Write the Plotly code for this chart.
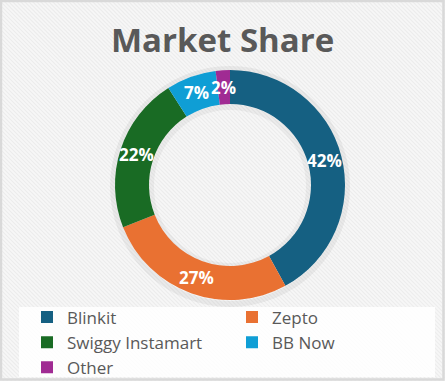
import math
import plotly.graph_objects as go

# ---- data ----
companies = ["Blinkit", "Zepto", "Swiggy Instamart", "BB Now", "Other"]
shares = [42, 27, 22, 7, 2]
colors = ["#156082", "#E97132", "#196B24", "#0F9ED5", "#A02B93"]
title_text = "Market Share"

W, H = 445, 381
CX, CY = 230, 185          # donut centre (px, from top-left)
R_OUT, R_IN = 115, 81
FONT = "Open Sans"

fig = go.Figure()
fig.add_trace(go.Pie(
    labels=companies, values=shares,
    marker=dict(colors=colors, line=dict(width=0)),
    hole=R_IN / R_OUT, sort=False, direction="clockwise", rotation=0,
    textinfo="none", hoverinfo="label+percent",
    domain=dict(x=[(CX - R_OUT) / W, (CX + R_OUT) / W],
                y=[(H - CY - R_OUT) / H, (H - CY + R_OUT) / H]),
    showlegend=True,
))

# percentage labels placed at mid-ring, derived from the data
total = sum(shares)
r_mid = (R_OUT + R_IN) / 2
annotations = []
cum = 0
for v in shares:
    ang = 2 * math.pi * (cum + v / 2) / total
    cum += v
    px = CX + r_mid * math.sin(ang)
    py = CY - r_mid * math.cos(ang)
    annotations.append(dict(
        x=px, y=py, xref="x", yref="y", text=f"{round(100 * v / total)}%",
        showarrow=False, font=dict(family=FONT, size=17, color="white", weight="bold"),
        xanchor="center", yanchor="middle"))

annotations.append(dict(
    x=222, y=39, xref="x", yref="y", text=title_text, showarrow=False,
    font=dict(family=FONT, size=33, color="#595959", weight="bold"),
    xanchor="center", yanchor="middle"))

# background stripes
path = []
for k in range(-H, W + 4, 4):
    path.append(f"M{k},0 L{k + H},{H}")
shapes = [
    dict(type="rect", xref="x", yref="y", x0=0, y0=0, x1=W, y1=H,
         fillcolor="#f7f7f7", line=dict(width=0), layer="below"),
    dict(type="path", xref="x", yref="y", path=" ".join(path),
         line=dict(color="#ececec", width=1.2), layer="below"),
    # soft shadow around donut (outer) and inside the hole
    dict(type="circle", xref="x", yref="y", x0=CX - R_OUT - 2, y0=CY - R_OUT - 1,
         x1=CX + R_OUT + 2, y1=CY + R_OUT + 4, fillcolor="rgba(0,0,0,0)",
         line=dict(width=6, color="rgba(0,0,0,0.05)"), layer="below"),
    dict(type="circle", xref="x", yref="y", x0=CX - R_IN + 2, y0=CY - R_IN + 3,
         x1=CX + R_IN - 2, y1=CY + R_IN, fillcolor="rgba(0,0,0,0)",
         line=dict(width=6, color="rgba(0,0,0,0.045)"), layer="below"),
    # legend box
    dict(type="rect", xref="x", yref="y", x0=19, y0=307, x1=435, y1=377,
         fillcolor="rgba(255,255,255,0.85)", line=dict(width=0), layer="below"),
    # outer border
    dict(type="rect", xref="x", yref="y", x0=1, y0=1, x1=W - 1.5, y1=H - 1.5,
         fillcolor="rgba(0,0,0,0)", line=dict(color="#d9d9d9", width=2.5), layer="above"),
]

fig.update_layout(
    width=W, height=H, margin=dict(l=0, r=0, t=0, b=0, autoexpand=False),
    paper_bgcolor="#f7f7f7", plot_bgcolor="rgba(0,0,0,0)",
    xaxis=dict(range=[0, W], visible=False, fixedrange=True, domain=[0, 1]),
    yaxis=dict(range=[H, 0], visible=False, fixedrange=True, domain=[0, 1]),
    shapes=shapes, annotations=annotations,
    legend=dict(orientation="h", x=27 / W, y=1 - 299.5 / H, xanchor="left", yanchor="top",
                entrywidth=160, entrywidthmode="pixels", bgcolor="rgba(0,0,0,0)",
                font=dict(family=FONT, size=17, color="#595959"),
                tracegroupgap=0, itemclick=False, traceorder="normal"),
    showlegend=True,
)

fig.write_html("out.html")
